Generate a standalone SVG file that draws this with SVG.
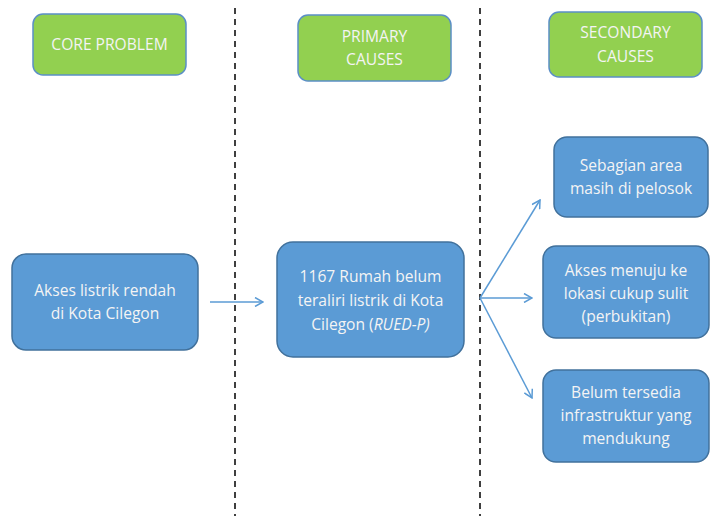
<svg xmlns="http://www.w3.org/2000/svg" width="710" height="516" viewBox="0 0 710 516">
<defs>
<style>
.hdr{fill:#92D050;stroke:#5B8FC6;stroke-width:1.5}
.box{fill:#5B9BD5;stroke:#41719C;stroke-width:1.5}
text{font-family:"Open Sans","Liberation Sans",sans-serif;font-size:15.6px;fill:#F4F4F4;text-anchor:middle}
.div{stroke:#000;stroke-width:1.5;stroke-dasharray:6,5}
.con{stroke:#5B9BD5;stroke-width:1.5;fill:none;marker-end:url(#ah)}
</style>
<marker id="ah" viewBox="0 0 10 10" refX="9" refY="5" markerWidth="10" markerHeight="10" markerUnits="userSpaceOnUse" orient="auto">
<polyline points="1,0.5 9,5 1,9.5" fill="none" stroke="#5B9BD5" stroke-width="1.5"/>
</marker>
</defs>
<rect width="710" height="516" fill="#fff"/>
<line class="div" x1="235" y1="8" x2="235" y2="516"/>
<line class="div" x1="480" y1="8" x2="480" y2="516"/>
<g id="hdr-core"><rect class="hdr" x="33" y="14" width="153" height="61" rx="10"/><text x="109.5" y="50">CORE PROBLEM</text></g>
<g id="hdr-primary"><rect class="hdr" x="298" y="15" width="153" height="66" rx="10"/><text x="374.5" y="42">PRIMARY</text><text x="374.5" y="65">CAUSES</text></g>
<g id="hdr-secondary"><rect class="hdr" x="549" y="12" width="153" height="65" rx="10"/><text x="625.5" y="38">SECONDARY</text><text x="625.5" y="62">CAUSES</text></g>
<g id="core"><rect class="box" x="12" y="254" width="186" height="96" rx="14"/><text x="105" y="296">Akses listrik rendah</text><text x="105" y="319">di Kota Cilegon</text></g>
<g id="primary"><rect class="box" x="277" y="242" width="187" height="115" rx="16"/><text x="370.5" y="282">1167 Rumah belum</text><text x="370.5" y="306">teraliri listrik di Kota</text><text x="370.5" y="330">Cilegon (<tspan font-style="italic">RUED-P)</tspan></text></g>
<g id="sec1"><rect class="box" x="554" y="137" width="154" height="80" rx="13"/><text x="631" y="171">Sebagian area</text><text x="631" y="194">masih di pelosok</text></g>
<g id="sec2"><rect class="box" x="543" y="246" width="166" height="92" rx="13"/><text x="626" y="276">Akses menuju ke</text><text x="626" y="299">lokasi cukup sulit</text><text x="626" y="322">(perbukitan)</text></g>
<g id="sec3"><rect class="box" x="543" y="370" width="166" height="92" rx="13"/><text x="626" y="398">Belum tersedia</text><text x="626" y="421">infrastruktur yang</text><text x="626" y="444">mendukung</text></g>
<g id="connectors">
<line class="con" x1="210" y1="302" x2="263" y2="302"/>
<line class="con" x1="480" y1="298" x2="540" y2="200"/>
<line class="con" x1="480" y1="298" x2="532" y2="298"/>
<line class="con" x1="480" y1="298" x2="532" y2="398"/>
</g>
</svg>
